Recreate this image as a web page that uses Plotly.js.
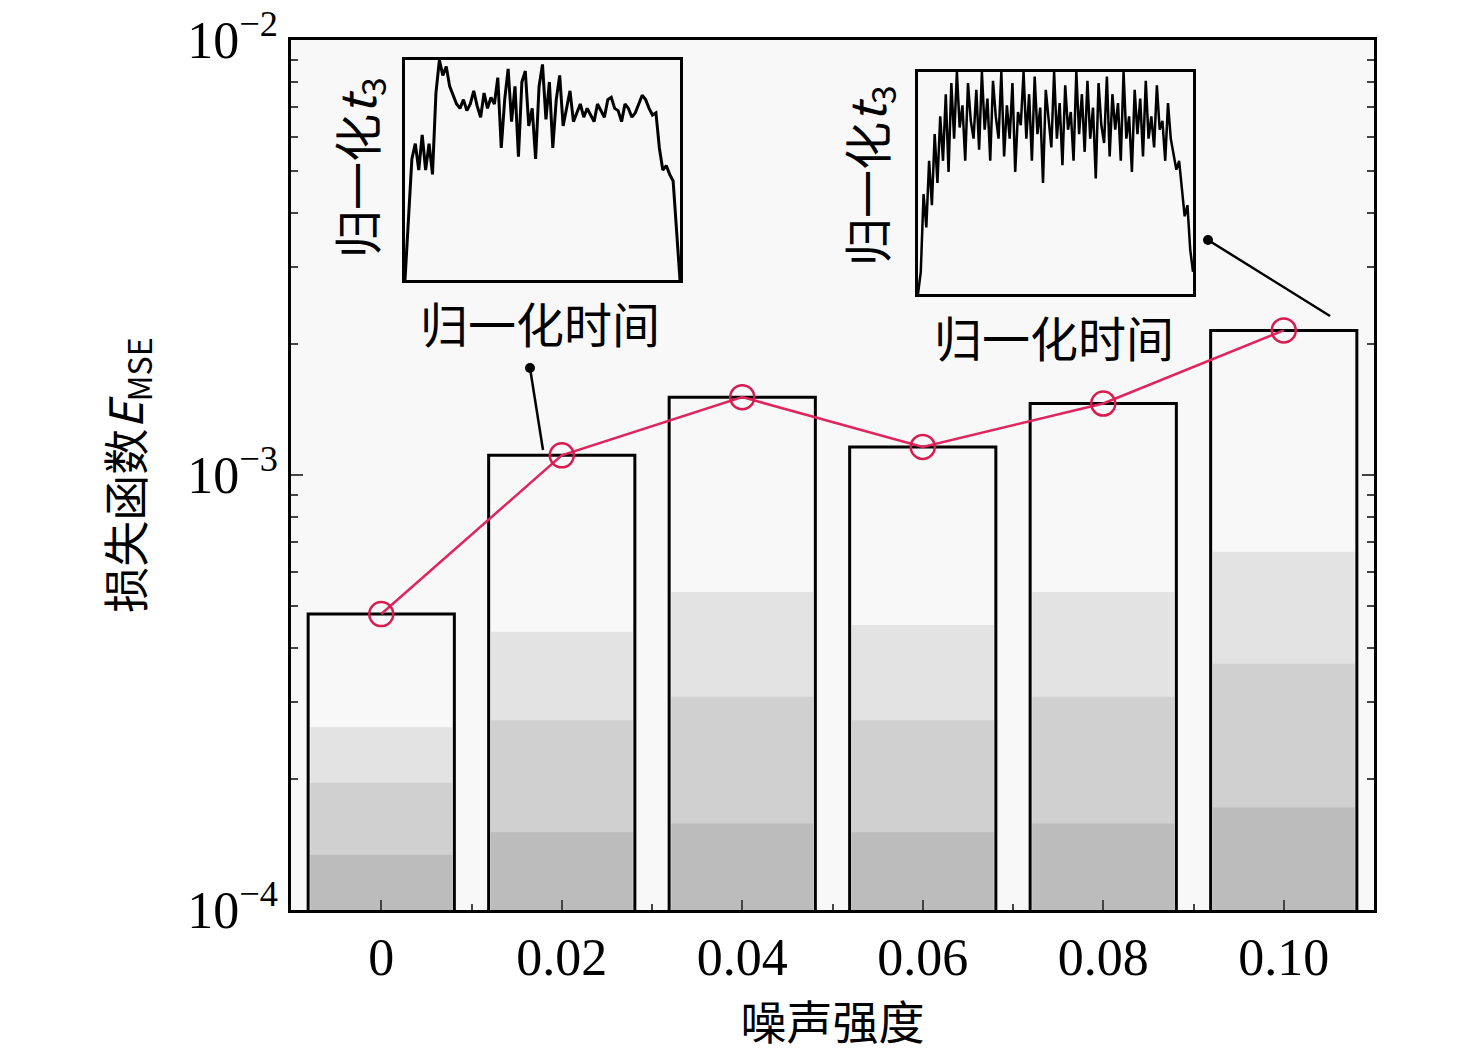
<!DOCTYPE html>
<html><head><meta charset="utf-8">
<script src="https://cdn.plot.ly/plotly-3.0.1.min.js"></script>
<style>body{margin:0;background:#fff}</style></head>
<body><div id="c" style="width:1476px;height:1053px"></div>
<script>
const categories=['0','0.02','0.04','0.06','0.08','0.10'];
const mse=[4.79e-4,1.11e-3,1.51e-3,1.16e-3,1.46e-3,2.15e-3];
const band3=[2.63e-4,4.36e-4,5.38e-4,4.52e-4,5.38e-4,6.66e-4];
const band2=[1.96e-4,2.73e-4,3.09e-4,2.73e-4,3.09e-4,3.68e-4];
const band1=[1.34e-4,1.51e-4,1.58e-4,1.51e-4,1.58e-4,1.72e-4];
const inset1=[0,0.3,0.55,0.62,0.5,0.66,0.5,0.62,0.48,0.85,1.0,0.93,0.97,0.88,0.84,0.8,0.78,0.82,0.77,0.8,0.86,0.79,0.74,0.85,0.78,0.83,0.8,0.92,0.6,0.82,0.96,0.72,0.88,0.56,0.9,0.95,0.7,0.78,0.55,0.88,0.98,0.73,0.9,0.6,0.82,0.93,0.7,0.78,0.86,0.72,0.76,0.8,0.74,0.78,0.75,0.72,0.8,0.77,0.74,0.82,0.83,0.78,0.77,0.72,0.8,0.78,0.74,0.76,0.8,0.84,0.82,0.78,0.75,0.76,0.6,0.5,0.52,0.48,0.45,0.2,0];
const inset2=[0,0.1,0.45,0.3,0.6,0.4,0.72,0.5,0.8,0.6,0.9,0.55,0.95,0.7,1.0,0.75,0.85,0.6,0.95,0.78,0.7,0.92,0.65,1.0,0.74,0.88,0.6,0.96,0.8,0.7,1.0,0.62,0.85,0.7,0.95,0.55,0.82,0.76,1.0,0.7,0.9,0.6,0.98,0.72,0.84,0.5,0.92,0.78,0.66,1.0,0.7,0.86,0.58,0.94,0.74,0.82,0.6,1.0,0.72,0.9,0.64,0.96,0.7,0.84,0.52,0.95,0.76,0.68,0.98,0.62,0.9,0.74,0.86,0.6,1.0,0.7,0.8,0.55,0.92,0.72,0.88,0.62,0.96,0.7,0.8,0.66,0.94,0.74,0.78,0.6,0.86,0.7,0.62,0.56,0.6,0.48,0.35,0.4,0.2,0.1];
const minorVals=[2e-4,3e-4,4e-4,5e-4,6e-4,7e-4,8e-4,9e-4,2e-3,3e-3,4e-3,5e-3,6e-3,7e-3,8e-3,9e-3];
const xi=categories.map((c,i)=>i);
const lin=a=>a.map((v,i)=>i/(a.length-1));
const W=0.81;
const traces=[
 {type:'bar',x:xi,y:mse,width:W,marker:{color:'#f8f8f8',line:{width:0}},hoverinfo:'skip'},
 {type:'bar',x:xi,y:band3,width:W*0.97,marker:{color:'#e3e3e3'}},
 {type:'bar',x:xi,y:band2,width:W*0.97,marker:{color:'#d0d0d0'}},
 {type:'bar',x:xi,y:band1,width:W*0.97,marker:{color:'#bcbcbc'}},
 {type:'bar',x:xi,y:mse,width:W,marker:{color:'rgba(0,0,0,0)',line:{color:'#000',width:3}}},
 {type:'scatter',mode:'lines+markers',x:xi,y:mse,line:{color:'#e0245e',width:2.5},marker:{size:24,color:'rgba(0,0,0,0)',line:{color:'#d81b50',width:2.5}}},
 {type:'scatter',mode:'lines',x:lin(inset1),y:inset1,xaxis:'x2',yaxis:'y2',line:{color:'#000',width:3}},
 {type:'scatter',mode:'lines',x:lin(inset2),y:inset2,xaxis:'x3',yaxis:'y3',line:{color:'#000',width:2.5}}
];
const px=p=>(p-291)/1083, py=p=>(910-p)/870;
const ff='Liberation Serif, Noto Sans CJK SC, serif';
const cj='Noto Sans CJK SC, serif';
const insetAx=(d,a)=>({domain:d,anchor:a,range:[0,1],showticklabels:false,ticks:'',showgrid:false,zeroline:false,showline:true,mirror:true,linecolor:'#000',linewidth:2.5});
const ann=(x,y,t,rot)=>({xref:'paper',yref:'paper',x:px(x),y:py(y),xanchor:'center',yanchor:'middle',text:t,textangle:rot||0,showarrow:false,font:{family:cj,size:48}});
const layout={
 width:1476,height:1053,showlegend:false,barmode:'overlay',
 paper_bgcolor:'#fff',plot_bgcolor:'#f8f8f8',
 margin:{l:291,r:102,t:40,b:143},
 font:{family:ff,size:52,color:'#000'},
 xaxis:{range:[-0.5,5.5],tickvals:xi,ticktext:categories,ticks:'inside',ticklen:10,tickwidth:2,
   showline:true,mirror:true,linecolor:'#000',linewidth:2.5,showgrid:false,zeroline:false,
   minor:{tickvals:[0.5,1.5,2.5,3.5,4.5],ticks:'inside',ticklen:6},
   title:{text:'噪声强度',font:{family:cj,size:46},standoff:4}},
 yaxis:{type:'log',range:[-4,-2],tickvals:[1e-4,1e-3,1e-2],ticktext:['10<sup>−4</sup>','10<sup>−3</sup>','10<sup>−2</sup>'],
   ticks:'inside',ticklen:12,tickwidth:2,showline:true,mirror:'ticks',linecolor:'#000',linewidth:2.5,showgrid:false,
   minor:{tickvals:minorVals,ticks:'inside',ticklen:7,showgrid:false},
   title:{text:'损失函数<i>E</i><sub>MSE</sub>',font:{family:cj,size:46},standoff:30}},
 xaxis2:insetAx([px(405),px(680)],'y2'),yaxis2:insetAx([py(280),py(60)],'x2'),
 xaxis3:insetAx([px(918),px(1193)],'y3'),yaxis3:insetAx([py(294),py(72)],'x3'),
 annotations:[
  ann(540,322,'归一化时间'),ann(1054,336,'归一化时间'),
  ann(358,168,'归一化<i>t</i><sub>3</sub>',-90),ann(868,176,'归一化<i>t</i><sub>3</sub>',-90)
 ],
 shapes:[
  {type:'line',xref:'paper',yref:'paper',x0:px(530),y0:py(368),x1:px(543),y1:py(450),line:{color:'#000',width:2.5}},
  {type:'circle',xref:'paper',yref:'paper',x0:px(525),y0:py(363),x1:px(535),y1:py(373),fillcolor:'#000',line:{width:0}},
  {type:'line',xref:'paper',yref:'paper',x0:px(1208),y0:py(240),x1:px(1330),y1:py(316),line:{color:'#000',width:2.5}},
  {type:'circle',xref:'paper',yref:'paper',x0:px(1203),y0:py(235),x1:px(1213),y1:py(245),fillcolor:'#000',line:{width:0}}
 ]
};
Plotly.newPlot('c',traces,layout,{displayModeBar:false});
</script></body></html>
